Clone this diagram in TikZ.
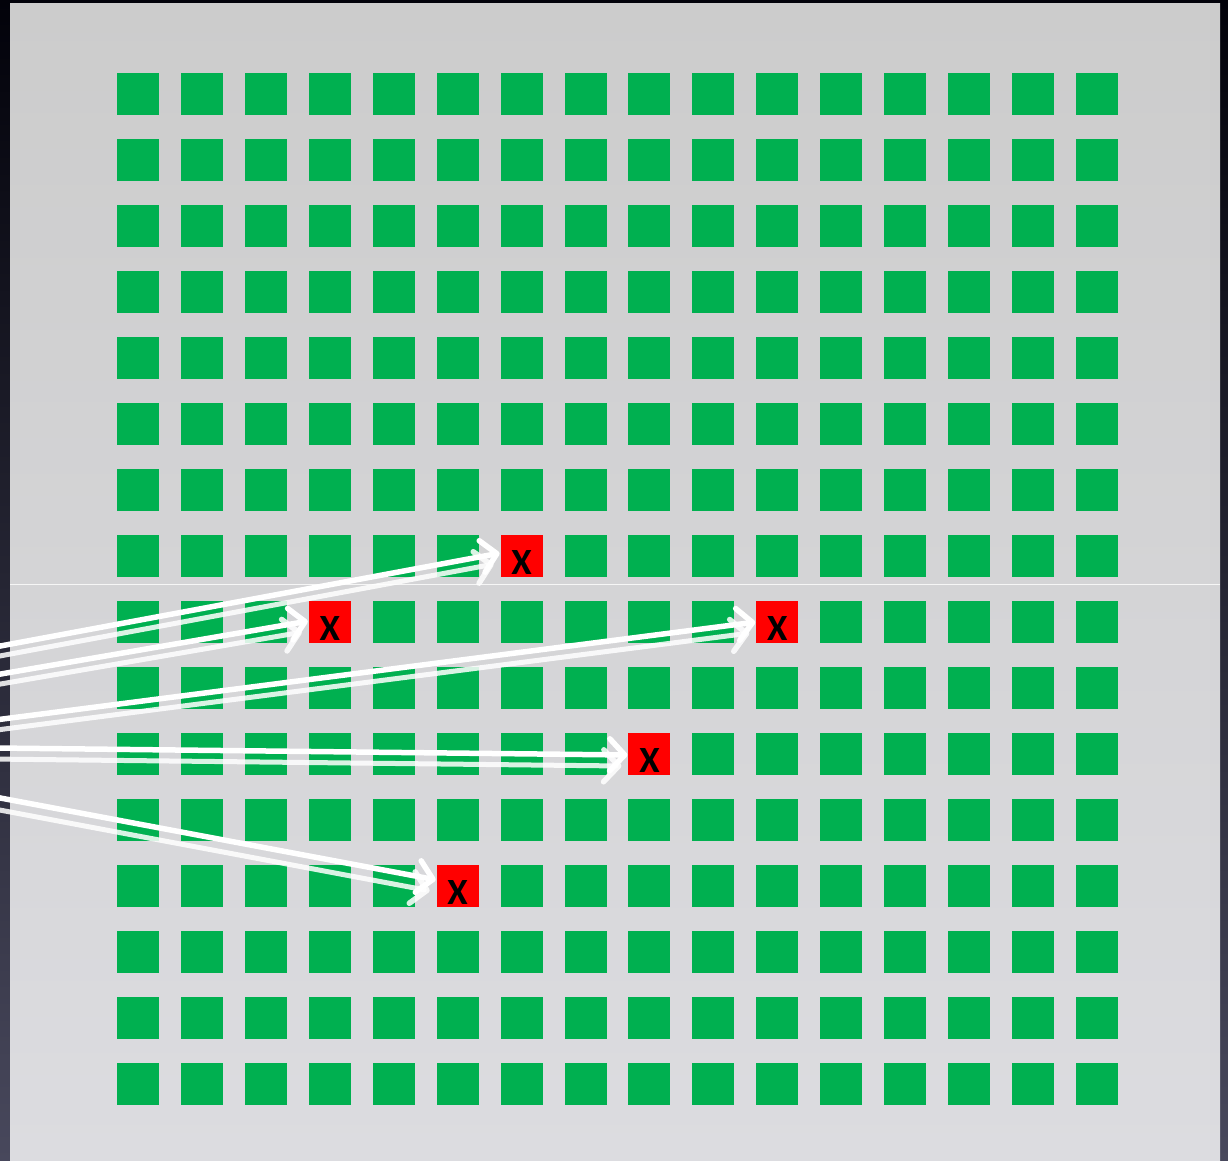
\documentclass[tikz,border=0pt]{standalone}
\usepackage{fontspec}
\setmainfont{Carlito}
\usetikzlibrary{arrows.meta}
\definecolor{cellgreen}{RGB}{0,176,80}
\definecolor{cellred}{RGB}{255,0,0}
\definecolor{frametop}{RGB}{2,2,10}
\definecolor{framebot}{RGB}{72,72,92}
\definecolor{paneltop}{RGB}{204,204,204}
\definecolor{panelbot}{RGB}{220,220,224}
\begin{document}
\begin{tikzpicture}[x=1pt,y=-1pt,
  cell/.style={fill=cellgreen,draw=none,minimum size=42pt,inner sep=0pt,outer sep=0pt},
  redcell/.style={fill=cellred,draw=none,minimum size=42pt,inner sep=0pt,outer sep=0pt},
  xlabel/.style={anchor=base,inner sep=0pt,font=\bfseries\fontsize{37}{37}\selectfont},
  pointer/.style={draw=white,line width=5.5pt,line cap=round,line join=round,
    -{Straight Barb[length=15pt,width=32pt,line width=5.5pt,round]},shorten >=1pt},
  ghost/.style={pointer,draw=white,opacity=0.85,line width=5pt,
    transform canvas={shift={(-6pt,-11pt)}}}]
\useasboundingbox (0,0) rectangle (1228,1161);
\shade[top color=frametop,bottom color=framebot] (0,0) rectangle (1228,1161);
\shade[top color=paneltop,bottom color=panelbot] (10,4) rectangle (1220,1161);
\draw[white,line width=0.8pt,opacity=0.8] (10,584) -- (1220,584);
\foreach \r in {0,...,15}{
  \foreach \c in {0,...,15}{
    \pgfmathtruncatemacro\isred{((\r==7)&&(\c==6))||((\r==8)&&(\c==3))||((\r==8)&&(\c==10))||((\r==10)&&(\c==8))||((\r==12)&&(\c==5))}
    \ifnum\isred=1
      \node[redcell] (c-\r-\c) at ({138+63.93*\c},{94+66*\r}) {};
    \else
      \node[cell] (c-\r-\c) at ({138+63.93*\c},{94+66*\r}) {};
    \fi
  }
}
\foreach \n in {c-7-6,c-8-3,c-8-10,c-10-8,c-12-5}{
  \node[xlabel] (x-\n) at ([yshift=2.5pt]\n.south) {X};
}
\coordinate (s1) at (-5,647);
\coordinate (s2) at (-5,675);
\coordinate (s3) at (-5,720);
\coordinate (s4) at (-5,748);
\coordinate (s5) at (-5,797);
\foreach \s/\t/\dy in {s1/c-7-6/3,s2/c-8-3/1,s3/c-8-10/0,s4/c-10-8/-1,s5/c-12-5/6}{
  \draw[ghost] (\s) -- ([yshift=\dy pt]\t.west);
  \draw[pointer] (\s) -- ([yshift=\dy pt]\t.west);
}
\end{tikzpicture}
\end{document}
